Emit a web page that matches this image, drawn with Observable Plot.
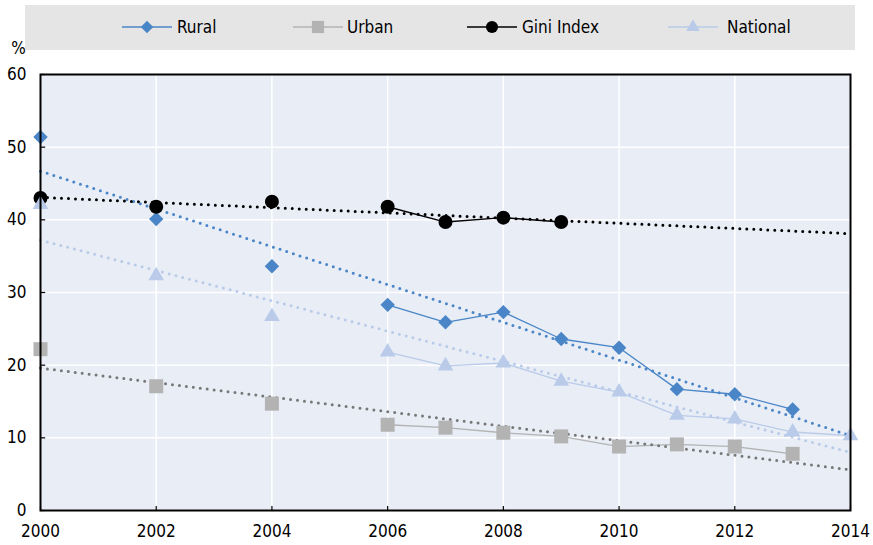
<!DOCTYPE html>
<html><head><meta charset="utf-8">
<script src="https://cdn.jsdelivr.net/npm/d3@7"></script>
<script src="https://cdn.jsdelivr.net/npm/@observablehq/plot@0.6"></script>
<style>
body{margin:0;background:#fff;}
#wrap{position:relative;width:873px;height:545px;font-family:'Liberation Sans Narrow','Arial Narrow','DejaVu Sans Condensed',sans-serif;}
#legend{position:absolute;left:25px;top:5px;}
</style></head><body><div id="wrap"><div id="chart"></div></div>
<script>
// ---- data ----
const years = [2000,2001,2002,2003,2004,2005,2006,2007,2008,2009,2010,2011,2012,2013,2014];
const rural    = [51.4,null,40.1,null,33.6,null,28.3,25.9,27.3,23.6,22.4,16.7,16.0,13.9,null];
const urban    = [22.2,null,17.1,null,14.7,null,11.8,11.4,10.7,10.2,8.8,9.1,8.8,7.8,null];
const gini     = [43.0,null,41.8,null,42.5,null,41.8,39.7,40.3,39.7,null,null,null,null,null];
const national = [42.1,null,32.3,null,26.7,null,21.8,19.9,20.3,17.8,16.3,13.1,12.6,10.8,10.3];
const seriesNames = ["Rural","Urban","Gini Index","National"];
// linear trend lines (value at 2000 and at 2014)
const trendStart = [46.7,19.6,43.1,37.2];
const trendEnd   = [10.3,5.6,38.1,8.0];
const xTicks = [2000,2002,2004,2006,2008,2010,2012,2014];
const yTicks = [0,10,20,30,40,50,60];

// ---- styles ----
const styles = {
  "Rural":      {color:"#4a86c7", trend:"#4a86c7", symbol:"diamond2", r:6.5, width:1.3},
  "Urban":      {color:"#b3b3b3", trend:"#777777", symbol:"square",   r:7.9, width:1.3},
  "Gini Index": {color:"#000000", trend:"#000000", symbol:"circle",   r:7,   width:1.3},
  "National":   {color:"#b9cbe9", trend:"#b9cbe9", symbol:"triangle", r:5.8, width:1.3}
};
const FONT = "'Liberation Sans Narrow','Arial Narrow','DejaVu Sans Condensed',sans-serif";

const valuesBy = {"Rural":rural,"Urban":urban,"Gini Index":gini,"National":national};
const rows = seriesNames.map(s => years.map((y,i)=>({year:y, series:s, value:valuesBy[s][i]})));
const trends = seriesNames.map((s,i)=>({series:s, x1:2000, x2:2014, y1:trendStart[i], y2:trendEnd[i]}));

const drawOrder = [0,1,2,3];
const lineMarks = drawOrder.map(i => Plot.line(rows[i], {x:"year", y:"value", stroke:styles[seriesNames[i]].color, strokeWidth:styles[seriesNames[i]].width}));
const trendMarks = drawOrder.map(i => Plot.link([trends[i]], {x1:"x1", x2:"x2", y1:"y1", y2:"y2", stroke:styles[seriesNames[i]].trend, strokeWidth:3, strokeDasharray:"0 7", strokeLinecap:"round"}));
const dotMarks = drawOrder.map(i => {
  const st = styles[seriesNames[i]];
  return Plot.dot(rows[i].filter(d=>d.value!=null), {x:"year", y:"value", symbol:()=>st.symbol, r:st.r, fill:st.color, stroke:"none"});
});

const chart = Plot.plot({
  width:873, height:545, marginTop:74, marginBottom:35, marginLeft:40, marginRight:23,
  style:{fontFamily:FONT, fontSize:"17px", color:"#000", background:"transparent", overflow:"visible"},
  x:{domain:[2000,2014]},
  y:{domain:[0,60]},
  symbol:{type:"identity"},
  marks:[
    Plot.frame({fill:"#e8edf6", stroke:null}),
    Plot.ruleX(xTicks, {x:d=>d, stroke:"white", strokeWidth:1.5}),
    Plot.ruleY(yTicks, {y:d=>d, stroke:"white", strokeWidth:1.5}),
    ...lineMarks,
    ...trendMarks,
    ...dotMarks,
    Plot.ruleX(xTicks, {x:d=>d, y1:0, y2:0.55, stroke:"black", strokeWidth:1.2}),
    Plot.ruleY(yTicks, {y:d=>d, x1:2000, x2:2000.09, stroke:"black", strokeWidth:1.2}),
    Plot.frame({stroke:"black", strokeWidth:2}),
    Plot.axisX(xTicks, {tickSize:0, tickPadding:14, tickFormat:d=>String(d), label:null}),
    Plot.axisY(yTicks, {tickSize:0, tickPadding:14, label:null}),
    Plot.text(["%"], {frameAnchor:"top-left", dx:-22, dy:-26, text:d=>d, textAnchor:"middle", lineAnchor:"middle"})
  ]
});
document.getElementById("chart").appendChild(chart);

// ---- legend ----
const legendPos = [{x:122, tx:177},{x:293, tx:347},{x:467, tx:522},{x:668, tx:727}];
const lg = d3.select("#wrap").append("svg").attr("id","legend").attr("width",830).attr("height",45);
lg.append("rect").attr("width",830).attr("height",45).attr("fill","#e5e5e5");
const symMap = {diamond2:d3.symbolDiamond2, square:d3.symbolSquare, circle:d3.symbolCircle, triangle:d3.symbolTriangle};
seriesNames.forEach((s,i)=>{
  const st = styles[s], p = legendPos[i];
  const g = lg.append("g").attr("transform",`translate(${p.x-25},22)`);
  g.append("line").attr("x1",0).attr("x2",50).attr("stroke",st.color).attr("stroke-width",1.5);
  g.append("path").attr("transform","translate(25,0)").attr("d", d3.symbol(symMap[st.symbol], st.r*st.r*Math.PI*0.75)()).attr("fill",st.color);
  lg.append("text").attr("x",p.tx-25).attr("y",22).attr("dy","0.35em").attr("font-family",FONT).attr("font-size",17).text(s);
});
</script></body></html>
